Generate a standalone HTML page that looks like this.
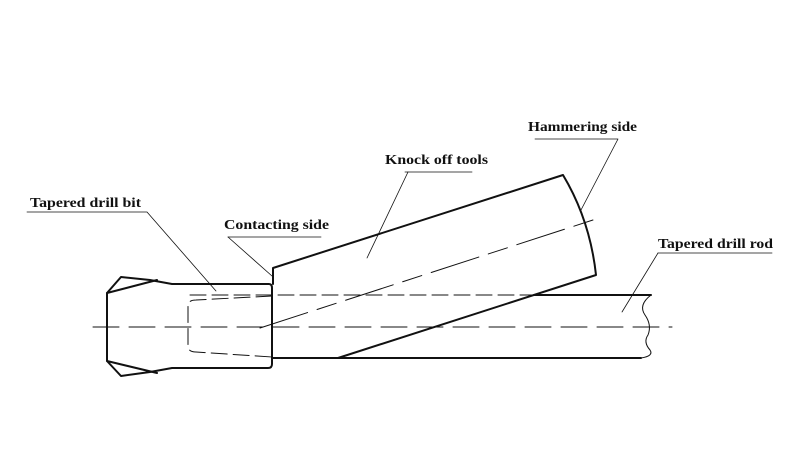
<!DOCTYPE html>
<html><head><meta charset="utf-8"><style>
html,body{margin:0;padding:0;background:#fff;}
svg{display:block}
text{font-family:"Liberation Serif",serif;font-weight:bold;font-size:14px;fill:#111}
</style></head><body>
<svg width="799" height="475" viewBox="0 0 799 475" xmlns="http://www.w3.org/2000/svg">
<g fill="none" stroke="#111" stroke-linecap="round" stroke-linejoin="round">
<line x1="93" y1="327" x2="672" y2="327" stroke-width="1" stroke-dasharray="26,10"/>
<g stroke-width="2">
<path d="M107,293 L121,277 L150,280 L172,284 L269,284 Q272,284 272,288 L272,364 Q272,368 268,368 L172,368 L150,372 L121,376 L107,361 Z"/>
<path d="M107,293 L157,280"/>
<path d="M107,361 L157,373"/>
<path d="M273,284 L273,268 L563,175 Q590,220 596,275 L338,358"/>
<path d="M534,295 L651,295"/>
<path d="M272,358 L641,358"/>
</g>
<path d="M651,295 Q638,305 645,315 Q652,325 648,335 Q643,342 650,350 Q654,356 641,358" stroke-width="1"/>
<g stroke-width="1" stroke-dasharray="16,6">
<path d="M190,295 L534,295"/>
<path d="M272,296 L196,300 Q188,300 188,306 L188,346 Q188,352 196,352 L272,357"/>
<path d="M260,328 L593,220" stroke-dasharray="50,10,20,10"/>
</g>
<g stroke-width="0.8">
<path d="M27,212 L147,212 L216,291"/>
<path d="M228,237 L321,237"/>
<path d="M228,237 L272,276"/>
<path d="M405,172 L472,172"/>
<path d="M408,172 L367,258"/>
<path d="M535,139 L618,139 L581,210"/>
<path d="M658,253 L772,253"/>
<path d="M658,253 L622,312"/>
</g>
</g>
<text x="30" y="207" textLength="111" lengthAdjust="spacingAndGlyphs">Tapered drill bit</text>
<text x="224" y="229" textLength="105" lengthAdjust="spacingAndGlyphs">Contacting side</text>
<text x="385" y="164" textLength="103" lengthAdjust="spacingAndGlyphs">Knock off tools</text>
<text x="528" y="131" textLength="109" lengthAdjust="spacingAndGlyphs">Hammering side</text>
<text x="658" y="248" textLength="115" lengthAdjust="spacingAndGlyphs">Tapered drill rod</text>
</svg>
</body></html>
